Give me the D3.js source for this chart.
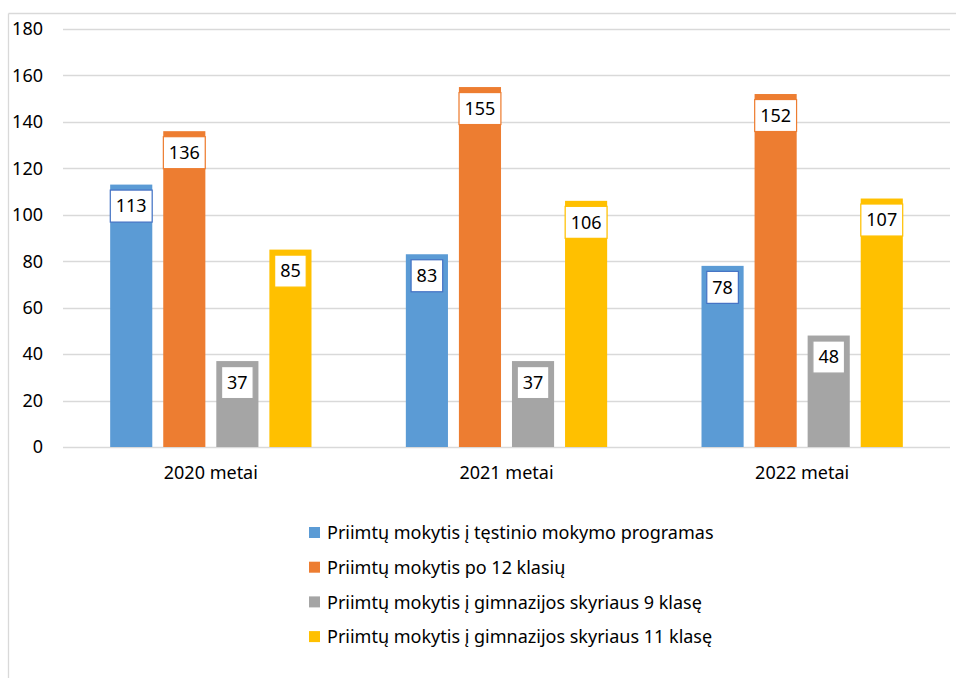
<!DOCTYPE html>
<html><head><meta charset="utf-8">
<script src="https://cdn.jsdelivr.net/npm/d3@7"></script>
<style>body{margin:0;background:#fff;} svg{display:block;font-family:"Noto Sans",sans-serif;}</style>
</head><body>
<svg id="chart" width="956" height="678"></svg>
<script>
const categories = ["2020 metai", "2021 metai", "2022 metai"];
const seriesNames = [
  "Priimtų mokytis į tęstinio mokymo programas",
  "Priimtų mokytis po 12 klasių",
  "Priimtų mokytis į gimnazijos skyriaus 9 klasę",
  "Priimtų mokytis į gimnazijos skyriaus 11 klasę"
];
const valuesTestinio = [113, 83, 78];
const values12 = [136, 155, 152];
const values9 = [37, 37, 48];
const values11 = [85, 106, 107];
const yTicks = [0, 20, 40, 60, 80, 100, 120, 140, 160, 180];
const colors = ["#5B9BD5", "#ED7D31", "#A5A5A5", "#FFC000"];
const labelBorders = ["#4472C4", "#ED7D31", "#A5A5A5", "#FFC000"];

const seriesValues = [valuesTestinio, values12, values9, values11];
const svg = d3.select("#chart");
const fs = 18;

// frame
svg.append("line").attr("x1", 8.5).attr("x2", 960).attr("y1", 13.5).attr("y2", 13.5).attr("stroke", "#D9D9D9").attr("stroke-width", 1.3);
svg.append("line").attr("x1", 8.5).attr("x2", 8.5).attr("y1", 13.5).attr("y2", 690).attr("stroke", "#D9D9D9").attr("stroke-width", 1.3);

const pLeft = 63, pRight = 950, pTop = 29, pBottom = 447;
const x = d3.scaleBand().domain(categories).range([pLeft, pRight]).padding(0);
const y = d3.scaleLinear().domain([0, 180]).range([pBottom, pTop]);

// gridlines
svg.append("g").selectAll("line").data(yTicks).join("line")
  .attr("x1", pLeft).attr("x2", pRight)
  .attr("y1", d => Math.round(y(d)) + 0.5).attr("y2", d => Math.round(y(d)) + 0.5)
  .attr("stroke", "#D9D9D9").attr("stroke-width", 1.3);

// y labels
svg.append("g").selectAll("text").data(yTicks).join("text")
  .attr("x", 43).attr("y", d => y(d)).attr("dy", "0.35em")
  .attr("text-anchor", "end").attr("font-size", fs).attr("fill", "#000")
  .text(d => d);

// inner band for series
const gw = x.bandwidth();
const bw = gw / (4 + 3 * 0.26 + 2.24);
const span = 4 * bw + 3 * 0.26 * bw;
const inner = d3.scaleBand().domain(d3.range(4)).range([gw/2 - span/2, gw/2 + span/2]).paddingInner(0.26/1.26).paddingOuter(0);

const groups = svg.append("g").selectAll("g").data(categories).join("g")
  .attr("transform", d => `translate(${x(d)},0)`);

groups.each(function(cat, ci) {
  const g = d3.select(this);
  seriesValues.forEach((vals, si) => {
    const v = vals[ci];
    const bx = inner(si), bwid = inner.bandwidth();
    g.append("rect").attr("x", bx).attr("y", y(v)).attr("width", bwid).attr("height", y(0) - y(v))
      .attr("fill", colors[si]);
    const t = g.append("text").attr("x", bx + bwid/2).attr("y", y(v) + 21.5).attr("dy", "0.35em")
      .attr("text-anchor", "middle").attr("font-size", fs).attr("fill", "#000").text(v);
    const tw = t.node().getComputedTextLength();
    const boxW = tw + 11;
    g.insert("rect", function(){ return t.node(); })
      .attr("x", bx + bwid/2 - boxW/2).attr("y", y(v) + 5.5).attr("width", boxW).attr("height", 32)
      .attr("fill", "#fff").attr("stroke", labelBorders[si]).attr("stroke-width", 1.2);
  });
});

// category labels
svg.append("g").selectAll("text").data(categories).join("text")
  .attr("x", d => x(d) + gw/2).attr("y", 473).attr("dy", "0.35em")
  .attr("text-anchor", "middle").attr("font-size", fs).attr("fill", "#000").text(d => d);

// legend
const lg = svg.append("g").selectAll("g").data(seriesNames).join("g")
  .attr("transform", (d, i) => `translate(309, ${533 + i * 34.7})`);
lg.append("rect").attr("x", 0).attr("y", -6).attr("width", 11).attr("height", 11).attr("fill", (d, i) => colors[i]);
lg.append("text").attr("x", 18).attr("y", 0).attr("dy", "0.35em").attr("font-size", fs).attr("fill", "#000").text(d => d);
</script>
</body></html>
